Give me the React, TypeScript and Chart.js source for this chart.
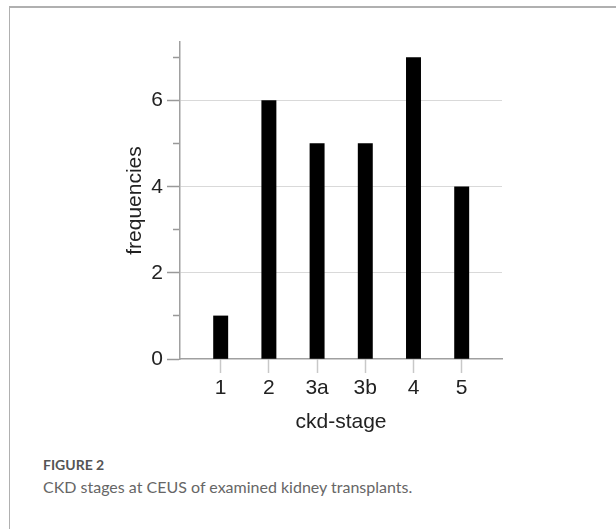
import React, { useEffect, useRef } from "react";
import { Chart, registerables } from "chart.js";

Chart.register(...registerables);

const categories = ["1", "2", "3a", "3b", "4", "5"];
const frequencies = [1, 6, 5, 5, 7, 4];
const yTicks = [0, 1, 2, 3, 4, 5, 6, 7];

export default function App() {
  const ref = useRef<HTMLCanvasElement | null>(null);

  useEffect(() => {
    if (!ref.current) return;
    const font = { family: "'Liberation Sans', Arial, sans-serif", size: 21 };
    const chart = new Chart(ref.current, {
      type: "bar",
      data: {
        datasets: [
          {
            data: categories.map((c, i) => ({ x: i + 1, y: frequencies[i] })),
            backgroundColor: "#000000",
            borderWidth: 0,
            barThickness: 14.3,
          },
        ],
      },
      options: {
        animation: false,
        responsive: false,
        maintainAspectRatio: false,
        layout: { padding: { left: 100, top: 42, right: 114, bottom: 11 } },
        plugins: { legend: { display: false }, tooltip: { enabled: false } },
        scales: {
          x: {
            type: "linear",
            offset: false,
            min: 0.156,
            max: 6.836,
            afterBuildTicks: (axis: any) => {
              axis.ticks = categories.map((_, i) => ({ value: i + 1 }));
            },
            afterFit: (scale: any) => {
              scale.height = 80;
            },
            ticks: {
              autoSkip: false,
              maxRotation: 0,
              color: "#222",
              font,
              padding: 3,
              callback: (v: any) => categories[Math.round(Number(v)) - 1] ?? "",
            },
            grid: {
              offset: false,
              drawOnChartArea: false,
              drawTicks: true,
              tickLength: 14,
              tickColor: "#c8c8c8",
              tickWidth: 1.5,
            },
            border: { display: true, color: "#a0a0a0", width: 1.5 },
            title: {
              display: true,
              text: "ckd-stage",
              color: "#222",
              font,
              padding: { top: 0, bottom: 4.4 },
            },
          },
          y: {
            type: "linear",
            min: 0,
            max: 7.36,
            afterBuildTicks: (axis: any) => {
              axis.ticks = yTicks.map((v) => ({ value: v }));
            },
            afterFit: (scale: any) => {
              scale.width = 80;
            },
            ticks: {
              color: "#222",
              font,
              padding: 4,
              callback: (v: any) => (Number(v) % 2 === 0 ? String(v) : ""),
            },
            grid: {
              drawTicks: true,
              tickLength: 13,
              lineWidth: 1,
              color: (ctx: any) => {
                const v = ctx.tick ? ctx.tick.value : -1;
                return v === 2 || v === 4 || v === 6 ? "#d9d9d9" : "rgba(0,0,0,0)";
              },
              tickColor: "#999999",
              tickWidth: 1.5,
              tickBorderDash: (ctx: any) => {
                const v = ctx.tick ? ctx.tick.value : 0;
                return v % 2 === 1 ? [0, 6, 7, 100] : [];
              },
            },
            border: { display: true, color: "#a0a0a0", width: 1.5 },
            title: {
              display: true,
              text: "frequencies",
              color: "#222",
              font,
              padding: { top: 23, bottom: 0 },
            },
          },
        },
      },
    });
    return () => chart.destroy();
  }, []);

  return (
    <div
      style={{
        position: "absolute",
        left: 0,
        top: 0,
        width: 616,
        height: 529,
        background: "#fff",
        overflow: "hidden",
      }}
    >
      <div style={{ position: "absolute", left: 9, top: 6, width: 607, height: 1.5, background: "#b0b0b0" }} />
      <div style={{ position: "absolute", left: 8.5, top: 6, width: 1.5, height: 523, background: "#b0b0b0" }} />
      <canvas
        ref={ref}
        width={616}
        height={450}
        style={{ position: "absolute", left: 0, top: 0, width: 616, height: 450 }}
      />
      <div
        style={{
          position: "absolute",
          left: 43,
          top: 457.6,
          fontFamily: "Lato, 'Open Sans', sans-serif",
          fontSize: 14,
          lineHeight: "14px",
          fontWeight: 700,
          color: "#555",
          whiteSpace: "nowrap",
        }}
      >
        FIGURE 2
      </div>
      <div
        style={{
          position: "absolute",
          left: 43,
          top: 479,
          fontFamily: "Lato, 'Open Sans', sans-serif",
          fontSize: 16,
          lineHeight: "16px",
          fontWeight: 400,
          color: "#666",
          whiteSpace: "nowrap",
        }}
      >
        CKD stages at CEUS of examined kidney transplants.
      </div>
    </div>
  );
}
